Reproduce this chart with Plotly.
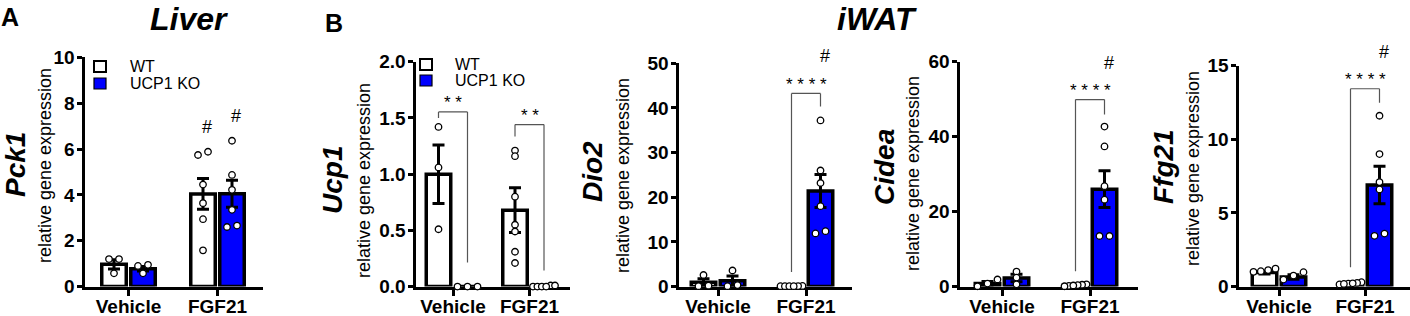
import plotly.graph_objects as go

W, H = 1410, 316
groups = ["Vehicle", "FGF21"]

# ---------------- data ----------------
# Liver Pck1
pck1_wt_mean = [0.97, 4.04]
pck1_wt_sem = [0.20, 0.67]
pck1_ko_mean = [0.78, 4.05]
pck1_ko_sem = [0.10, 0.59]
pck1_wt_pts = [[1.20, 1.20, 0.58], [5.74, 5.88, 4.45, 3.64, 2.94, 1.58]]
pck1_ko_pts = [[0.95, 0.90, 0.58], [6.36, 4.87, 4.22, 3.35, 2.60, 2.66]]

# iWAT Ucp1
ucp1_wt_mean = [1.00, 0.68]
ucp1_wt_sem = [0.26, 0.20]
ucp1_ko_mean = [0.00, 0.00]
ucp1_ko_sem = [0.00, 0.00]
ucp1_wt_pts = [[1.42, 1.06, 0.51], [1.21, 1.16, 0.80, 0.55, 0.49, 0.31, 0.21]]
ucp1_ko_pts = [[0.00, 0.00, 0.00], [0.00, 0.01, 0.00, 0.01, 0.00, 0.00]]

# iWAT Dio2
dio2_wt_mean = [0.95, 0.10]
dio2_wt_sem = [0.80, 0.02]
dio2_ko_mean = [1.30, 21.4]
dio2_ko_sem = [1.10, 3.70]
dio2_wt_pts = [[2.60, 0.10, 0.20], [0.10, 0.10, 0.15, 0.10, 0.12, 0.10]]
dio2_ko_pts = [[3.60, 0.35, 0.10], [37.2, 26.0, 23.2, 18.0, 12.4, 11.9]]

# iWAT Cidea
cidea_wt_mean = [0.85, 0.35]
cidea_wt_sem = [0.50, 0.10]
cidea_ko_mean = [2.30, 26.0]
cidea_ko_sem = [1.00, 4.90]
cidea_wt_pts = [[1.90, 0.10, 0.80], [0.20, 0.60, 0.50, 0.40, 0.10, 0.30]]
cidea_ko_pts = [[4.00, 2.40, 0.60], [42.7, 37.4, 26.8, 23.2, 13.5, 13.5]]

# iWAT Ffg21
ffg21_wt_mean = [0.95, 0.20]
ffg21_wt_sem = [0.10, 0.04]
ffg21_ko_mean = [0.65, 6.90]
ffg21_ko_sem = [0.15, 1.28]
ffg21_wt_pts = [[1.05, 1.22, 1.00, 1.12], [0.15, 0.30, 0.20, 0.25, 0.18, 0.22]]
ffg21_ko_pts = [[0.98, 0.75, 0.48], [11.6, 9.0, 7.1, 6.6, 3.6, 3.45]]

gene_names = ["Pck1", "Ucp1", "Dio2", "Cidea", "Ffg21"]
y_max = [10, 2, 50, 60, 15]
y_dtick = [2, 0.5, 10, 20, 5]
y_fmt = ["d", ".1f", "d", "d", "d"]

# ---------------- layout geometry (pixels) ----------------
FONT = "Liberation Sans"
BLUE = "#0000FF"
BOTTOM = 286.6
BAR_PX = 24.5
OFF_PX = 14.5

geom = [
    dict(x0=83, x1=263, cv=128.5, cf=217.5, top=57.3, gx=15, gy=165, rx=45, ry=166),
    dict(x0=414, x1=570, cv=453, cf=529.5, top=61.7, gx=332, gy=180, rx=364, ry=181),
    dict(x0=677, x1=852, cv=718, cf=806, top=63.3, gx=592, gy=172, rx=623, ry=176),
    dict(x0=958, x1=1138, cv=1002, cf=1090, top=61.7, gx=884, gy=167, rx=913, ry=174),
    dict(x0=1237, x1=1410, cv=1279, cf=1365, top=65.7, gx=1163, gy=167, rx=1193, ry=169),
]

panel_data = [
    (pck1_wt_mean, pck1_wt_sem, pck1_ko_mean, pck1_ko_sem, pck1_wt_pts, pck1_ko_pts),
    (ucp1_wt_mean, ucp1_wt_sem, ucp1_ko_mean, ucp1_ko_sem, ucp1_wt_pts, ucp1_ko_pts),
    (dio2_wt_mean, dio2_wt_sem, dio2_ko_mean, dio2_ko_sem, dio2_wt_pts, dio2_ko_pts),
    (cidea_wt_mean, cidea_wt_sem, cidea_ko_mean, cidea_ko_sem, cidea_wt_pts, cidea_ko_pts),
    (ffg21_wt_mean, ffg21_wt_sem, ffg21_ko_mean, ffg21_ko_sem, ffg21_wt_pts, ffg21_ko_pts),
]

# significance brackets: (panel, group, label, top_off_px, left_gap_px, right_gap_px)
brackets = [
    (1, 0, "* *", 15, 9, 24),
    (1, 1, "* *", 26, 14, 15),
    (2, 1, "* * * *", 27, 14, 14),
    (3, 1, "* * * *", 27, 13, 12),
    (4, 1, "* * * *", 27, 15, 13),
]
# '#' marks: (panel, group, genotype 0=WT 1=KO)
hashes = [(0, 1, 0), (0, 1, 1), (2, 1, 1), (3, 1, 1), (4, 1, 1)]


def swarm(vals, ppy, ppx, thresh=5.0, step=10.0, span=22.0):
    order = sorted(range(len(vals)), key=lambda k: vals[k])
    clusters = []
    for k in order:
        if clusters and (vals[k] - vals[clusters[-1][-1]]) * ppy < thresh:
            clusters[-1].append(k)
        else:
            clusters.append([k])
    offs = [0.0] * len(vals)
    for c in clusters:
        n = len(c)
        if n < 2:
            continue
        s = min(step, span / (n - 1))
        for j, k in enumerate(c):
            offs[k] = (j - (n - 1) / 2) * s / ppx
    return offs


def px(x):
    return x / W


def py(y):
    return 1 - y / H


fig = go.Figure()
layout = dict(
    width=W, height=H, autosize=False,
    margin=dict(l=0, r=0, t=0, b=0, pad=0, autoexpand=False),
    paper_bgcolor="white", plot_bgcolor="white",
    showlegend=False,
)
annotations = []
shapes = []
meta = []

for i, (g, d) in enumerate(zip(geom, panel_data)):
    n = i + 1
    xa = "x" if n == 1 else f"x{n}"
    ya = "y" if n == 1 else f"y{n}"
    wt_mean, wt_sem, ko_mean, ko_sem, wt_pts, ko_pts = d
    ppx = g["cf"] - g["cv"]
    dl = g["x0"] + 1.5
    ppy = (BOTTOM - g["top"]) / y_max[i]
    off = OFF_PX / ppx
    bw = BAR_PX / ppx
    meta.append(dict(xa=xa, ya=ya, ppx=ppx, ppy=ppy, off=off))

    layout["xaxis" if n == 1 else f"xaxis{n}"] = dict(
        domain=[px(dl), px(g["x1"])],
        range=[(dl - g["cv"]) / ppx, (g["x1"] - g["cv"]) / ppx],
        anchor=ya, tickmode="array", tickvals=[0, 1], ticktext=groups,
        ticks="outside", ticklen=6, tickwidth=3, tickcolor="black", ticklabelstandoff=-5,
        showline=True, linecolor="black", linewidth=3, showgrid=False, zeroline=False,
        tickfont=dict(family=FONT, size=19, color="black", weight="bold"),
        layer="below traces", fixedrange=True, automargin=False,
    )
    layout["yaxis" if n == 1 else f"yaxis{n}"] = dict(
        domain=[py(BOTTOM), py(g["top"])],
        range=[0, y_max[i]], anchor=xa,
        tickmode="linear", tick0=0, dtick=y_dtick[i], tickformat=y_fmt[i],
        ticks="outside", ticklen=5, tickwidth=3, tickcolor="black", ticklabelstandoff=-2,
        showline=True, linecolor="black", linewidth=3, showgrid=False, zeroline=False,
        tickfont=dict(family=FONT, size=19, color="black", weight="bold"),
        layer="below traces", fixedrange=True, automargin=False,
    )

    for geno, (mean, sem, color) in enumerate([(wt_mean, wt_sem, "white"), (ko_mean, ko_sem, BLUE)]):
        sign = -1 if geno == 0 else 1
        fig.add_trace(go.Bar(
            x=[k + sign * off for k in range(2)], y=mean, width=bw,
            marker=dict(color=color, line=dict(color="black", width=3.5)),
            error_y=dict(type="data", array=sem, color="black", thickness=3, width=6),
            xaxis=xa, yaxis=ya, cliponaxis=False, hoverinfo="skip",
        ))
    for geno, pts in enumerate([wt_pts, ko_pts]):
        sign = -1 if geno == 0 else 1
        xs, ys = [], []
        for k, vals in enumerate(pts):
            o = swarm(vals, ppy, ppx)
            xs += [k + sign * off + oo for oo in o]
            ys += vals
        fig.add_trace(go.Scatter(
            x=xs, y=ys, mode="markers",
            marker=dict(size=6.5, color="white", line=dict(color="black", width=1.3)),
            xaxis=xa, yaxis=ya, cliponaxis=False, hoverinfo="skip",
        ))

    # y-axis titles
    annotations.append(dict(
        text=f"<b><i>{gene_names[i]}</i></b>", textangle=-90, xref="paper", yref="paper",
        x=px(g["gx"]), y=py(g["gy"]), xanchor="center", yanchor="middle", showarrow=False,
        font=dict(family=FONT, size=28, color="black"),
    ))
    annotations.append(dict(
        text="relative gene expression", textangle=-90, xref="paper", yref="paper",
        x=px(g["rx"]), y=py(g["ry"]), xanchor="center", yanchor="middle", showarrow=False,
        font=dict(family=FONT, size=18, color="black"),
    ))

# brackets
for (p, grp, label, top_off, lgap, rgap) in brackets:
    m = meta[p]
    wt_pts, ko_pts = panel_data[p][4][grp], panel_data[p][5][grp]
    ymax_pts = max(max(wt_pts), max(ko_pts))
    top = ymax_pts + top_off / m["ppy"]
    left_end = max(wt_pts) + lgap / m["ppy"]
    right_end = max(ko_pts) + rgap / m["ppy"]
    xl, xr = grp - m["off"], grp + m["off"]
    line = dict(color="#555555", width=1.2)
    shapes.append(dict(type="line", xref=m["xa"], yref=m["ya"], x0=xl, x1=xr, y0=top, y1=top, line=line))
    shapes.append(dict(type="line", xref=m["xa"], yref=m["ya"], x0=xl, x1=xl, y0=top, y1=left_end, line=line))
    shapes.append(dict(type="line", xref=m["xa"], yref=m["ya"], x0=xr, x1=xr, y0=top, y1=right_end, line=line))
    annotations.append(dict(
        text=label, xref=m["xa"], yref=m["ya"], x=grp, y=top, yshift=9,
        xanchor="center", yanchor="middle", showarrow=False,
        font=dict(family=FONT, size=17, color="black"),
    ))

# '#' marks
for (p, grp, geno) in hashes:
    m = meta[p]
    pts = panel_data[p][4 + geno][grp]
    sign = -1 if geno == 0 else 1
    if p == 0:
        y = max(pts)
        ys = 25
    else:
        allmax = max(max(panel_data[p][4][grp]), max(panel_data[p][5][grp]))
        y = allmax
        ys = 27 + 37
    annotations.append(dict(
        text="#", xref=m["xa"], yref=m["ya"], x=grp + sign * m["off"], y=y,
        xshift=4, yshift=ys, xanchor="center", yanchor="middle", showarrow=False,
        font=dict(family=FONT, size=18, color="black"),
    ))

# panel letters
for text, x, y in [("<b>A</b>", 10, 17), ("<b>B</b>", 333.5, 23)]:
    annotations.append(dict(text=text, xref="paper", yref="paper", x=px(x), y=py(y),
                            xanchor="center", yanchor="middle", showarrow=False,
                            font=dict(family=FONT, size=25, color="black")))
# tissue titles (anchored to the top edge so they are not clipped)
for text, x in [("<b><i>Liver</i></b>", 189), ("<b><i>iWAT</i></b>", 877)]:
    annotations.append(dict(text=text, xref="paper", yref="paper", x=px(x), y=1.0,
                            xanchor="center", yanchor="top", showarrow=False, borderpad=0,
                            font=dict(family=FONT, size=32, color="black")))

# legends (panel A and panel B)
for (bx, tx, y_wt, y_ko) in [(94, 128, 66.5, 83.5), (420, 453, 64.5, 80.5)]:
    shapes.append(dict(type="rect", xref="paper", yref="paper", x0=px(bx), x1=px(bx + 12),
                       y0=py(y_wt - 5.5), y1=py(y_wt + 5.5),
                       fillcolor="white", line=dict(color="black", width=2)))
    shapes.append(dict(type="rect", xref="paper", yref="paper", x0=px(bx), x1=px(bx + 12),
                       y0=py(y_ko - 5.5), y1=py(y_ko + 5.5),
                       fillcolor=BLUE, line=dict(color="black", width=1.2)))
    for t, yy in [("WT", y_wt), ("UCP1 KO", y_ko)]:
        annotations.append(dict(text=t, xref="paper", yref="paper", x=px(tx), y=py(yy),
                                xanchor="left", yanchor="middle", showarrow=False,
                                font=dict(family=FONT, size=16, color="black")))

layout["annotations"] = annotations
layout["shapes"] = shapes
fig.update_layout(**layout)
fig.write_html("out.html", config={"displayModeBar": False},
               post_script="document.body.style.margin='0px';document.body.style.overflow='hidden';")
